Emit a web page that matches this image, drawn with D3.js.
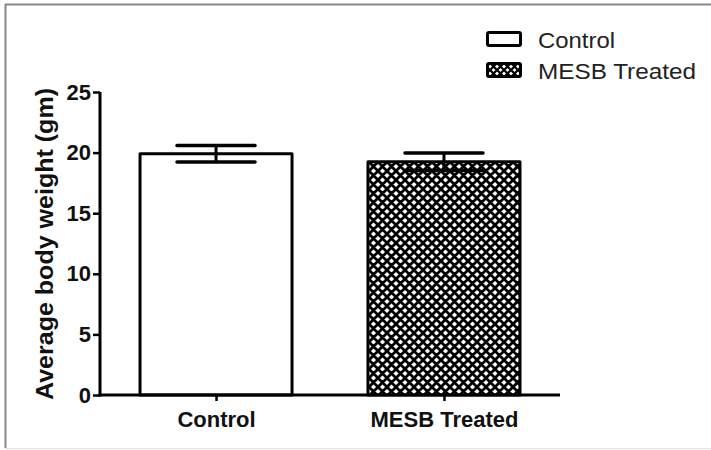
<!DOCTYPE html>
<html><head><meta charset="utf-8">
<script src="https://cdn.jsdelivr.net/npm/d3@7/dist/d3.min.js"></script>
<style>body{margin:0;background:#fff}svg{display:block}</style>
</head><body><svg id="c" width="711" height="450"></svg>
<script>
const categories = ["Control", "MESB Treated"];
const means = [19.9, 19.25];
const errors = [0.68, 0.72];
const yTicks = [0, 5, 10, 15, 20, 25];
const legendLabels = ["Control", "MESB Treated"];
const yTitle = "Average body weight (gm)";

const svg = d3.select("#c");
const defs = svg.append("defs");
const pat = defs.append("pattern").attr("id","hatch").attr("patternUnits","userSpaceOnUse")
  .attr("width",9).attr("height",9);
pat.append("rect").attr("width",9).attr("height",9).attr("fill","#fff");
pat.append("path").attr("d","M-1,-1L10,10M-1,10L10,-1M-5.5,3.5L3.5,12.5M5.5,-3.5L14.5,5.5M-5.5,5.5L3.5,-3.5M5.5,12.5L14.5,3.5")
  .attr("stroke","#000").attr("stroke-width",2.8);
const pat2 = defs.append("pattern").attr("id","hatch2").attr("patternUnits","userSpaceOnUse")
  .attr("width",7).attr("height",7);
pat2.append("rect").attr("width",7).attr("height",7).attr("fill","#fff");
pat2.append("path").attr("d","M-1,-1L8,8M-1,8L8,-1M-4.5,2.5L2.5,9.5M4.5,-2.5L11.5,4.5M-4.5,4.5L2.5,-2.5M4.5,9.5L11.5,2.5")
  .attr("stroke","#000").attr("stroke-width",2.2);

// frame
svg.append("line").attr("x1",5).attr("x2",711).attr("y1",4.5).attr("y2",4.5).attr("stroke","#888").attr("stroke-width",2);
svg.append("line").attr("x1",5.5).attr("x2",5.5).attr("y1",4).attr("y2",448).attr("stroke","#888").attr("stroke-width",2);
svg.append("line").attr("x1",5).attr("x2",711).attr("y1",448.5).attr("y2",448.5).attr("stroke","#e4e4e4").attr("stroke-width",1);

const y = d3.scaleLinear().domain([0,25]).range([395,92]);
const x = d3.scalePoint().domain(categories).range([100,560]).padding(0.509);
const barW = 152, capW = 78;
const fills = ["#fff","url(#hatch)"];

const g = svg.append("g");
categories.forEach((c,i)=>{
  const cx = x(c);
  g.append("rect").attr("x",cx-barW/2).attr("y",y(means[i])).attr("width",barW).attr("height",y(0)-y(means[i]))
    .attr("fill",fills[i]).attr("stroke","#000").attr("stroke-width",3).attr("stroke-linejoin","round");
  g.append("line").attr("x1",cx).attr("x2",cx).attr("y1",y(means[i]+errors[i])).attr("y2",y(means[i]-errors[i]))
    .attr("stroke","#000").attr("stroke-width",3);
  [means[i]+errors[i], means[i]-errors[i]].forEach(v=>{
    g.append("line").attr("x1",cx-capW/2).attr("x2",cx+capW/2).attr("y1",y(v)).attr("y2",y(v))
      .attr("stroke","#000").attr("stroke-width",3.5).attr("stroke-linecap","round");
  });
});

// y axis
const ya = svg.append("g").attr("transform","translate(100,0)")
  .call(d3.axisLeft(y).tickValues(yTicks).tickSize(7).tickPadding(2).tickFormat(d3.format("d")));
ya.select(".domain").attr("stroke-width",3).attr("d","M0,"+y(25)+"V"+(y(0)+1.5));
ya.selectAll(".tick line").attr("stroke-width",2.5);
ya.selectAll("text").attr("font-family","Arial, 'Liberation Sans', sans-serif").attr("font-weight","bold")
  .attr("font-size",22).attr("fill","#111");

// x axis
const xa = svg.append("g").attr("transform","translate(0,395)")
  .call(d3.axisBottom(x).tickSize(6).tickPadding(8));
xa.select(".domain").attr("stroke-width",3).attr("d","M98.5,0H560");
xa.selectAll(".tick line").attr("stroke-width",2.5);
xa.selectAll("text").attr("font-family","Arial, 'Liberation Sans', sans-serif").attr("font-weight","bold")
  .attr("font-size",22).attr("fill","#111").attr("dy","0.8em");

// y title
svg.append("text").attr("transform","translate(53,244) rotate(-90)").attr("text-anchor","middle")
  .attr("font-family","Arial, 'Liberation Sans', sans-serif").attr("font-weight","bold").attr("font-size",23)
  .attr("textLength",312).attr("lengthAdjust","spacingAndGlyphs").attr("fill","#111").text(yTitle);

// legend
const legFills = ["#fff","url(#hatch2)"];
const legY = [32.5, 63.5];
const legW = [77, 158];
legendLabels.forEach((l,i)=>{
  svg.append("rect").attr("x",487.5).attr("y",legY[i]).attr("width",33).attr("height",13)
    .attr("rx",1.5).attr("fill",legFills[i]).attr("stroke","#000").attr("stroke-width",3);
  svg.append("text").attr("x",538).attr("y",legY[i]+15.5).attr("font-family","Arial, 'Liberation Sans', sans-serif")
    .attr("font-size",22).attr("fill","#222").attr("textLength",legW[i]).attr("lengthAdjust","spacingAndGlyphs").text(l);
});
</script></body></html>
